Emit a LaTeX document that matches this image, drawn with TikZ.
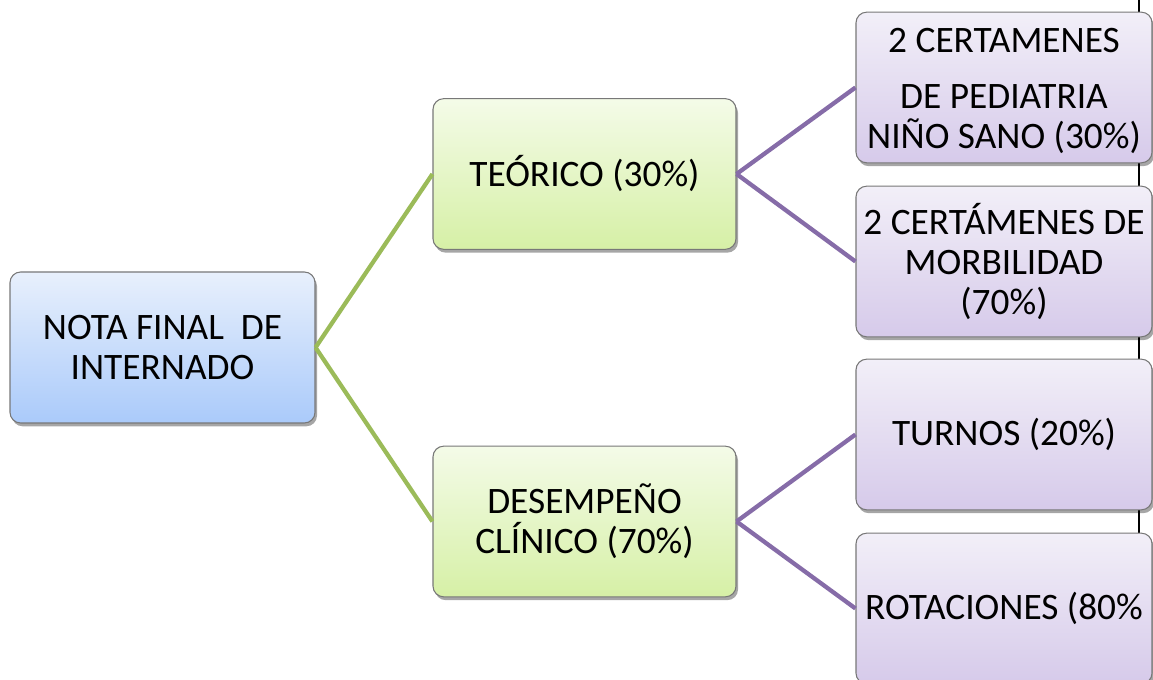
\documentclass[tikz,border=0pt]{standalone}
\usepackage{fontspec}
\setmainfont{Carlito}
\usetikzlibrary{shadows}
\definecolor{blueTop}{RGB}{232,240,252}
\definecolor{blueBot}{RGB}{170,202,250}
\definecolor{greenTop}{RGB}{244,251,232}
\definecolor{greenBot}{RGB}{214,240,166}
\definecolor{purpTop}{RGB}{242,239,248}
\definecolor{purpBot}{RGB}{214,202,234}
\definecolor{greenLine}{RGB}{155,187,89}
\definecolor{purpLine}{RGB}{134,108,168}
\definecolor{boxEdge}{RGB}{120,120,120}
\tikzset{
  boxtext/.style={align=center, font=\fontsize{28}{30}\selectfont, text=black},
  box/.style={boxtext, draw=boxEdge, line width=0.8pt, rounded corners=8pt,
    drop shadow={shadow xshift=1.5pt, shadow yshift=-2.5pt, opacity=0.35, fill=black}},
  rootbox/.style={box, top color=blueTop, bottom color=blueBot, minimum width=228.75pt, minimum height=113.25pt},
  midbox/.style={box, top color=greenTop, bottom color=greenBot, minimum width=227.25pt, minimum height=113pt},
  leafbox/.style={box, top color=purpTop, bottom color=purpBot, minimum width=222pt, minimum height=113pt},
  gline/.style={draw=greenLine, line width=3.2pt},
  pline/.style={draw=purpLine, line width=3.2pt}
}
\begin{document}
\begin{tikzpicture}[x=0.75pt, y=-0.75pt]
\useasboundingbox (0,0) rectangle (1153,680);
\clip (0,0) rectangle (1153,680);
\coordinate (vt) at (1139,0);
\coordinate (vb) at (1139,570);
\draw[black, line width=1.2pt] (vt) -- (vb);
\node[rootbox] (root) at (162.5,347.5) {NOTA FINAL\ \ DE\\INTERNADO};
\node[midbox] (teo) at (584.5,174) {TEÓRICO (30\%)};
\node[midbox] (des) at (584.5,521.5) {DESEMPEÑO\\CLÍNICO (70\%)};
\node[leafbox] (r1) at (1004,87.5) {};
\node[boxtext] (r1t) at (1004,91) {2 CERTAMENES\\[12pt] DE PEDIATRIA\\NIÑO SANO (30\%)};
\node[leafbox] (r2) at (1004,261.5) {2 CERTÁMENES DE\\MORBILIDAD\\(70\%)};
\node[leafbox] (r3) at (1004,434.5) {TURNOS (20\%)};
\node[leafbox] (r4) at (1004,608.5) {ROTACIONES (80\%};
\draw[gline] (root.east) -- (teo.west);
\draw[gline] (root.east) -- (des.west);
\draw[pline] (teo.east) -- (r1.west);
\draw[pline] (teo.east) -- (r2.west);
\draw[pline] (des.east) -- (r3.west);
\draw[pline] (des.east) -- (r4.west);
\end{tikzpicture}
\end{document}
